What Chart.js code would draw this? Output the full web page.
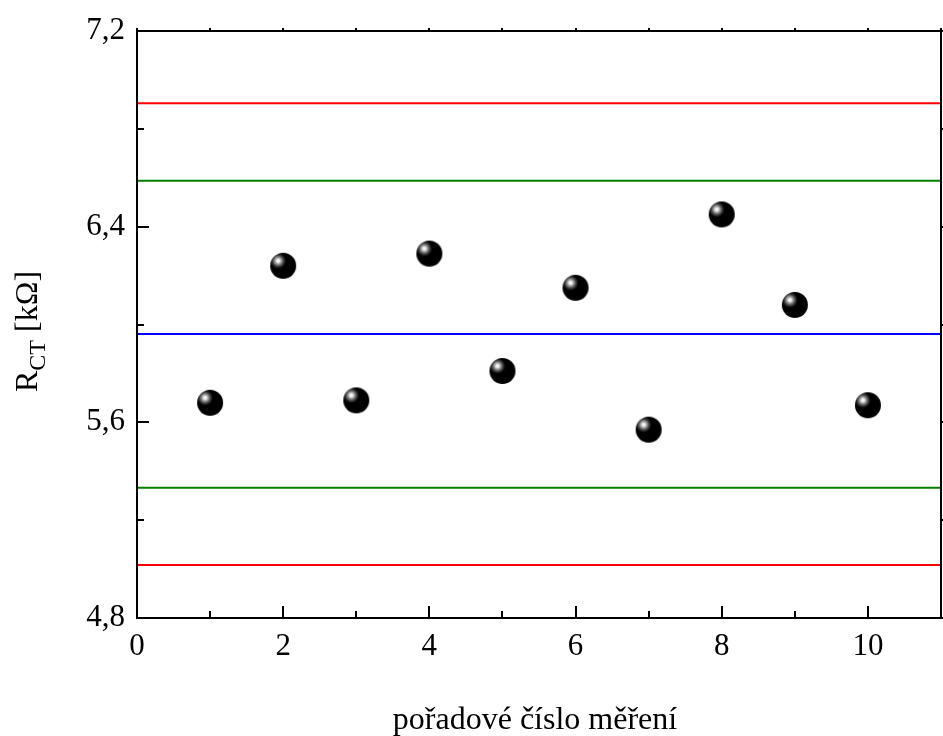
<!DOCTYPE html>
<html>
<head>
<meta charset="utf-8">
<script src="https://cdn.jsdelivr.net/npm/chart.js@4.4.0/dist/chart.umd.min.js"></script>
<style>
  html, body { margin: 0; padding: 0; background: #fff; }
</style>
</head>
<body>
<canvas id="rctChart" width="943" height="736"></canvas>
<script>
// measured charge-transfer resistance per measurement
const measurementNo = [1, 2, 3, 4, 5, 6, 7, 8, 9, 10];
const rctValues = [5.68, 6.24, 5.69, 6.29, 5.81, 6.15, 5.57, 6.45, 6.08, 5.67];

// control chart levels: mean (blue), warning limits (green), action limits (red)
const meanLevel = 5.961;
const warningLevels = [5.333, 6.588];
const actionLevels = [5.017, 6.905];

const xRange = [0, 11];
const yRange = [4.8, 7.2];
const xTicks = [0, 2, 4, 6, 8, 10];
const xMinorTicks = [1, 3, 5, 7, 9, 11];
const yTicks = [4.8, 5.6, 6.4, 7.2];
const yMinorTicks = [5.2, 6.0, 6.8];

const SERIF = '"Liberation Serif", "Times New Roman", serif';

// shiny black ball used as the point marker
function makeBall(r) {
  const c = document.createElement('canvas');
  c.width = c.height = 2 * r + 2;
  const g = c.getContext('2d');
  const cx = r + 1, cy = r + 1;
  const hx = cx - 5, hy = cy - 5;
  const grad = g.createRadialGradient(hx, hy, 0, hx, hy, r * 0.6);
  grad.addColorStop(0, '#ffffff');
  grad.addColorStop(0.18, '#f0f0f0');
  grad.addColorStop(0.4, '#a0a0a0');
  grad.addColorStop(0.7, '#404040');
  grad.addColorStop(1, '#000000');
  g.beginPath();
  g.arc(cx, cy, r, 0, Math.PI * 2);
  g.fillStyle = grad;
  g.fill();
  return c;
}

function hLine(level, color) {
  return {
    type: 'line',
    data: [{ x: xRange[0], y: level }, { x: xRange[1], y: level }],
    borderColor: color,
    borderWidth: 2,
    pointRadius: 0,
    showLine: true,
    fill: false
  };
}

// box around the plot with ticks on every side
const frameTicks = {
  id: 'frameTicks',
  afterDatasetsDraw(chart) {
    const { ctx, chartArea: a, scales: { x, y } } = chart;
    ctx.save();
    ctx.strokeStyle = '#000';
    ctx.lineWidth = 2;
    ctx.beginPath();
    const xt = (list, len) => list.forEach(v => {
      const px = Math.round(x.getPixelForValue(v));
      ctx.moveTo(px, a.bottom); ctx.lineTo(px, a.bottom - len);
      ctx.moveTo(px, a.top); ctx.lineTo(px, a.top - 3);
    });
    const yt = (list, len) => list.forEach(v => {
      const py = Math.round(y.getPixelForValue(v));
      ctx.moveTo(a.left, py); ctx.lineTo(a.left + len, py);
      ctx.moveTo(a.right, py); ctx.lineTo(a.right + 3, py);
    });
    xt(xTicks, 12); xt(xMinorTicks, 7);
    yt(yTicks, 12); yt(yMinorTicks, 7);
    ctx.stroke();
    ctx.strokeRect(a.left, a.top, a.right - a.left, a.bottom - a.top);
    ctx.restore();
  }
};

// axis titles (the y title needs a subscript)
const axisTitles = {
  id: 'axisTitles',
  afterDraw(chart) {
    const { ctx } = chart;
    ctx.save();
    ctx.fillStyle = '#000';
    ctx.font = '32px ' + SERIF;
    ctx.textAlign = 'center';
    ctx.textBaseline = 'alphabetic';
    ctx.fillText('pořadové číslo měření', 535, 729);

    ctx.translate(37, 392);
    ctx.rotate(-Math.PI / 2);
    ctx.textAlign = 'left';
    let w = 0;
    ctx.fillText('R', w, 0);
    w += ctx.measureText('R').width;
    ctx.font = '24px ' + SERIF;
    ctx.fillText('CT', w, 8);
    w += ctx.measureText('CT').width;
    ctx.font = '32px ' + SERIF;
    ctx.fillText(' [kΩ]', w, 0);
    ctx.restore();
  }
};

const ctx = document.getElementById('rctChart').getContext('2d');
new Chart(ctx, {
  type: 'scatter',
  data: {
    datasets: [
      {
        label: 'RCT',
        data: measurementNo.map((n, i) => ({ x: n, y: rctValues[i] })),
        pointStyle: makeBall(13),
        pointRadius: 13,
        showLine: false
      },
      hLine(actionLevels[1], '#ff0000'),
      hLine(warningLevels[1], '#008000'),
      hLine(meanLevel, '#0000ff'),
      hLine(warningLevels[0], '#008000'),
      hLine(actionLevels[0], '#ff0000')
    ]
  },
  options: {
    responsive: false,
    animation: false,
    layout: { autoPadding: false, padding: { left: 0, right: 2, top: 31, bottom: 0 } },
    plugins: { legend: { display: false }, tooltip: { enabled: false } },
    scales: {
      x: {
        type: 'linear',
        min: xRange[0],
        max: xRange[1],
        grid: { display: false, drawTicks: false },
        border: { display: false },
        ticks: { color: '#000', font: { family: SERIF, size: 31 }, padding: 10 },
        afterBuildTicks: s => { s.ticks = xTicks.map(v => ({ value: v })); },
        afterFit: s => { s.height = 118; s.paddingLeft = 0; s.paddingRight = 0; }
      },
      y: {
        type: 'linear',
        min: yRange[0],
        max: yRange[1],
        grid: { display: false, drawTicks: false },
        border: { display: false },
        ticks: {
          color: '#000',
          font: { family: SERIF, size: 31 },
          padding: 12,
          callback: v => v.toFixed(1).replace('.', ',')
        },
        afterBuildTicks: s => { s.ticks = yTicks.map(v => ({ value: v })); },
        afterFit: s => { s.width = 137; }
      }
    }
  },
  plugins: [frameTicks, axisTitles]
});
</script>
</body>
</html>
